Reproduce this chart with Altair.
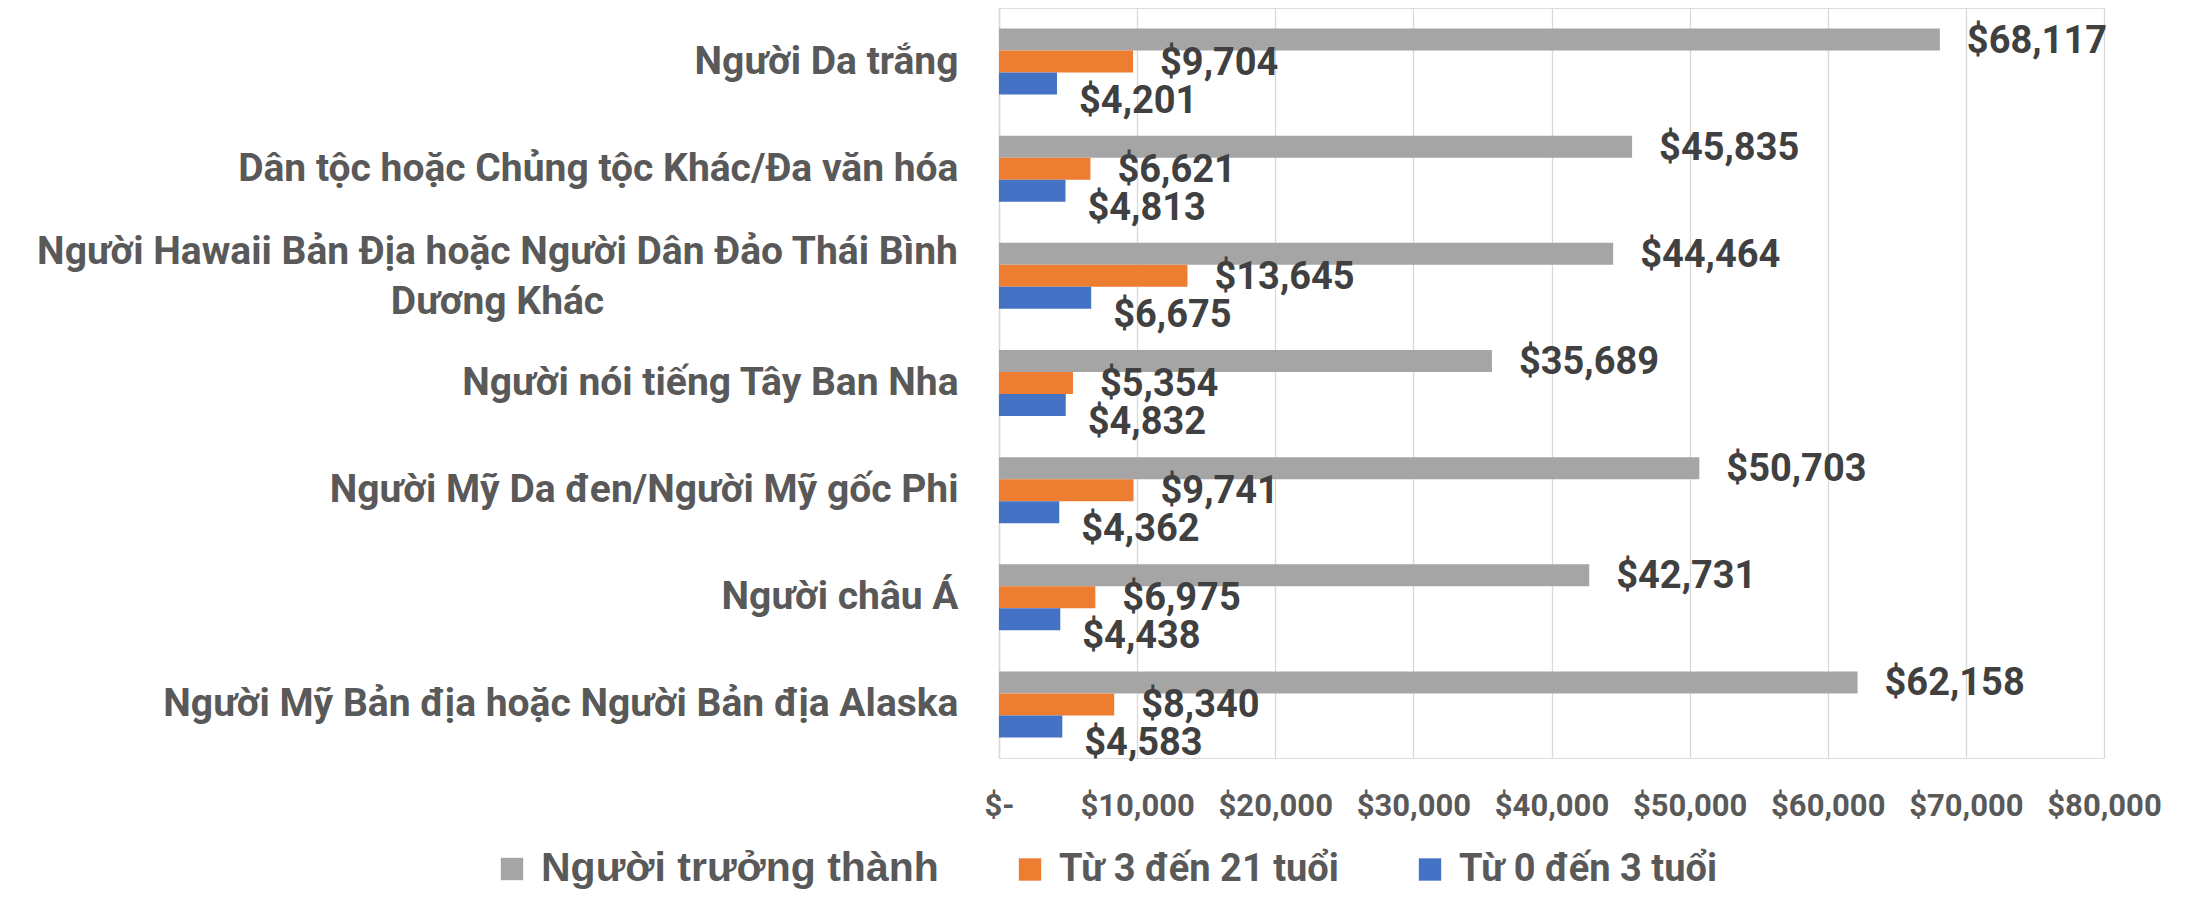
import altair as alt
import pandas as pd

categories = [
    "Người Da trắng",
    "Dân tộc hoặc Chủng tộc Khác/Đa văn hóa",
    "Người Hawaii Bản Địa hoặc Người Dân Đảo Thái Bình Dương Khác",
    "Người nói tiếng Tây Ban Nha",
    "Người Mỹ Da đen/Người Mỹ gốc Phi",
    "Người châu Á",
    "Người Mỹ Bản địa hoặc Người Bản địa Alaska",
]
series = ["Người trưởng thành", "Từ 3 đến 21 tuổi", "Từ 0 đến 3 tuổi"]
adults = [68117, 45835, 44464, 35689, 50703, 42731, 62158]
age_3_21 = [9704, 6621, 13645, 5354, 9741, 6975, 8340]
age_0_3 = [4201, 4813, 6675, 4832, 4362, 4438, 4583]
colors = ["#A5A5A5", "#ED7D31", "#4472C4"]
x_ticks = [0, 10000, 20000, 30000, 40000, 50000, 60000, 70000, 80000]

rows = []
for s, vals in zip(series, [adults, age_3_21, age_0_3]):
    for c, v in zip(categories, vals):
        rows.append({"cat": c, "series": s, "value": v})
df = pd.DataFrame(rows)

FONT = "Roboto"
hawaii_test = "indexof(datum.value, 'Hawaii') >= 0"

y_enc = alt.Y(
    "cat:N",
    sort=categories,
    title=None,
    scale=alt.Scale(paddingInner=0.384, paddingOuter=0.192),
    axis=alt.Axis(
        domain=True,
        domainColor="#D9D9D9",
        domainWidth=1.5,
        ticks=False,
        tickSize=0,
        labelFont=FONT,
        labelFontWeight="bold",
        labelFontSize=39,
        labelColor="#595959",
        labelLimit=2000,
        labelLineHeight=50,
        labelExpr="indexof(datum.value, 'Hawaii') >= 0 ? ['Người Hawaii Bản Địa hoặc Người Dân Đảo Thái Bình', 'Dương Khác'] : datum.label",
        labelAlign={"condition": {"test": hawaii_test, "value": "center"}, "value": "right"},
        labelPadding={"condition": {"test": hawaii_test, "value": 502}, "value": 41},
        labelOffset={"condition": {"test": hawaii_test, "value": -24}, "value": 0},
    ),
)
yoff_enc = alt.YOffset("series:N", sort=series, scale=alt.Scale(domain=series, paddingInner=0, paddingOuter=0))
x_enc = alt.X(
    "value:Q",
    title=None,
    scale=alt.Scale(domain=[0, 80000], nice=False),
    axis=alt.Axis(
        values=x_ticks,
        domain=False,
        ticks=False,
        tickSize=0,
        grid=True,
        gridColor="#D9D9D9",
        gridWidth=1.3,
        labelFont=FONT,
        labelFontWeight="bold",
        labelFontSize=31,
        labelColor="#595959",
        labelPadding=33,
        labelOverlap=False,
        labelFlush=False,
        labelExpr="datum.value == 0 ? '$-' : '$' + format(datum.value, ',')",
    ),
)

bars = alt.Chart(df).mark_bar().encode(
    y=y_enc,
    yOffset=yoff_enc,
    x=x_enc,
    color=alt.Color(
        "series:N",
        sort=series,
        scale=alt.Scale(domain=series, range=colors),
        title=None,
        legend=alt.Legend(
            orient="none",
            legendX=-506,
            legendY=842,
            direction="horizontal",
            columns=3,
            columnPadding=72,
            symbolType="square",
            symbolSize=500,
            symbolStrokeWidth=0,
            symbolOpacity=1,
            labelOffset=10,
            labelColor="#595959",
            labelFontWeight="bold",
            labelExpr="datum.value == 'Từ 3 đến 21 tuổi' ? datum.label + '   ' : datum.label",
            labelFont={"expr": "datum.value == 'Người trưởng thành' ? 'Liberation Sans' : 'Roboto'"},
            labelFontSize={"expr": "datum.value == 'Người trưởng thành' ? 41 : 38"},
            labelLimit=1000,
            padding=0,
        ),
    ),
)

offsets = {series[0]: (27, 2), series[1]: (27, 2), series[2]: (22, 18)}
layers = [bars]
for s in series:
    dx, dy = offsets[s]
    layers.append(
        alt.Chart(df)
        .transform_filter(alt.datum.series == s)
        .mark_text(
            align="left",
            baseline="middle",
            dx=dx,
            dy=dy,
            font=FONT,
            fontWeight="bold",
            fontSize=38,
            color="#404040",
        )
        .encode(
            y=alt.Y("cat:N", sort=categories),
            yOffset=alt.YOffset("series:N", sort=series),
            x=alt.X("value:Q"),
            text=alt.Text("value:Q", format="$,.0f"),
        )
    )

chart = (
    alt.layer(*layers)
    .properties(
        width=1105,
        height=750,
        autosize=alt.AutoSizeParams(type="none"),
        padding={"left": 991, "top": 0, "right": 70, "bottom": 133},
    )
    .configure_view(stroke=None)
    .configure(background="white")
)

chart.save("out.html", embed_options={"renderer": "svg", "actions": False})
